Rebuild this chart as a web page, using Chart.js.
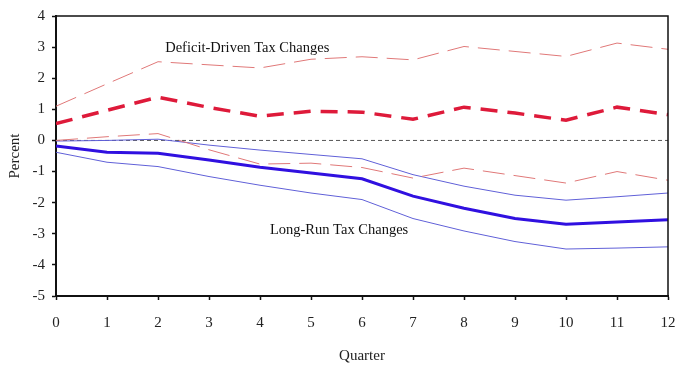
<!DOCTYPE html>
<html>
<head>
<meta charset="utf-8">
<script src="https://cdn.jsdelivr.net/npm/chart.js@4/dist/chart.umd.min.js"></script>
<style>
  body { margin: 0; background: #fff; }
  #wrap { width: 688px; height: 377px; }
</style>
</head>
<body>
<div id="wrap"><canvas id="irf" width="688" height="377"></canvas></div>
<script>
// quarters after the tax change
const quarters = [0, 1, 2, 3, 4, 5, 6, 7, 8, 9, 10, 11, 12];

// deficit-driven tax changes: response and bands (percent)
const deficitMean  = [0.54, 0.97, 1.39, 1.06, 0.78, 0.94, 0.91, 0.68, 1.07, 0.88, 0.65, 1.07, 0.83];
const deficitUpper = [1.10, 1.82, 2.53, 2.43, 2.33, 2.61, 2.69, 2.59, 3.02, 2.86, 2.70, 3.13, 2.93];
const deficitLower = [0.00, 0.12, 0.22, -0.30, -0.76, -0.73, -0.87, -1.21, -0.89, -1.13, -1.37, -1.00, -1.28];

// long-run tax changes: response and bands (percent)
const longRunMean  = [-0.18, -0.38, -0.41, -0.63, -0.86, -1.05, -1.23, -1.79, -2.18, -2.51, -2.69, -2.62, -2.55];
const longRunUpper = [-0.02, 0.00, 0.04, -0.15, -0.31, -0.45, -0.59, -1.10, -1.47, -1.76, -1.92, -1.81, -1.69];
const longRunLower = [-0.38, -0.70, -0.84, -1.16, -1.44, -1.69, -1.90, -2.51, -2.91, -3.25, -3.49, -3.46, -3.42];

// text labels placed in data coordinates
const seriesNotes = [
    { text: 'Deficit-Driven Tax Changes', x: 3.75, y: 2.98 },
    { text: 'Long-Run Tax Changes', x: 5.55, y: -2.88 }
];

const serif = "'Liberation Serif', 'Times New Roman', serif";

function toPoints(values) {
    return quarters.map((q, i) => ({ x: q, y: values[i] }));
}

// frame, dashed zero line and the two notes
const decorations = {
    id: 'decorations',
    beforeDatasetsDraw(chart) {
        const { ctx, chartArea, scales } = chart;
        const y0 = scales.y.getPixelForValue(0);
        ctx.save();
        ctx.strokeStyle = '#555';
        ctx.lineWidth = 1;
        ctx.setLineDash([4, 3]);
        ctx.beginPath();
        ctx.moveTo(chartArea.left, y0);
        ctx.lineTo(chartArea.right, y0);
        ctx.stroke();
        ctx.restore();
    },
    afterDraw(chart) {
        const { ctx, chartArea, scales } = chart;
        ctx.save();
        ctx.strokeStyle = '#111';
        ctx.lineWidth = 1.5;
        ctx.beginPath();
        ctx.moveTo(chartArea.left, chartArea.top);
        ctx.lineTo(chartArea.right, chartArea.top);
        ctx.lineTo(chartArea.right, chartArea.bottom);
        ctx.stroke();

        ctx.fillStyle = '#111';
        ctx.font = '14.5px ' + serif;
        ctx.textAlign = 'center';
        ctx.textBaseline = 'middle';
        seriesNotes.forEach(n => {
            ctx.fillText(n.text, scales.x.getPixelForValue(n.x), scales.y.getPixelForValue(n.y));
        });
        ctx.restore();
    }
};

function band(label, values, color, dash, width) {
    return {
        label: label,
        data: toPoints(values),
        borderColor: color,
        borderWidth: width,
        borderDash: dash,
        pointRadius: 0,
        tension: 0,
        fill: false
    };
}

new Chart(document.getElementById('irf'), {
    type: 'line',
    data: {
        datasets: [
            band('Deficit upper', deficitUpper, '#e07878', [22, 9], 1),
            band('Deficit lower', deficitLower, '#e07878', [22, 9], 1),
            band('Long-run upper', longRunUpper, '#6060d8', [], 1),
            band('Long-run lower', longRunLower, '#6060d8', [], 1),
            band('Deficit-driven', deficitMean, '#de1a3a', [17, 10], 3.5),
            band('Long-run', longRunMean, '#3010e0', [], 3)
        ]
    },
    options: {
        responsive: false,
        animation: false,
        layout: {
            padding: { left: 0, right: 20, top: 13, bottom: 0 }
        },
        plugins: {
            legend: { display: false },
            tooltip: { enabled: false }
        },
        scales: {
            x: {
                type: 'linear',
                min: 0,
                max: 12,
                afterFit: function(scale) {
                    scale.height = 81;
                    scale.paddingLeft = 0;
                    scale.paddingRight = 0;
                },
                grid: {
                    drawOnChartArea: false,
                    drawTicks: true,
                    tickLength: 4,
                    tickColor: '#111',
                    tickWidth: 1.5
                },
                border: { display: true, color: '#111', width: 2 },
                ticks: {
                    stepSize: 1,
                    padding: 14,
                    color: '#222',
                    maxRotation: 0,
                    font: { family: serif, size: 15 }
                },
                title: {
                    display: true,
                    text: 'Quarter',
                    color: '#222',
                    padding: { top: 0, bottom: 12 },
                    font: { family: serif, size: 15 }
                }
            },
            y: {
                min: -5,
                max: 4,
                afterFit: function(scale) { scale.width = 56; },
                grid: {
                    drawOnChartArea: false,
                    drawTicks: true,
                    tickLength: 4,
                    tickColor: '#111',
                    tickWidth: 1.5
                },
                border: { display: true, color: '#111', width: 2 },
                ticks: {
                    stepSize: 1,
                    padding: 7,
                    color: '#222',
                    font: { family: serif, size: 15 }
                },
                title: {
                    display: true,
                    text: 'Percent',
                    color: '#222',
                    padding: { top: 6, bottom: 0 },
                    font: { family: serif, size: 15 }
                }
            }
        }
    },
    plugins: [decorations]
});
</script>
</body>
</html>
